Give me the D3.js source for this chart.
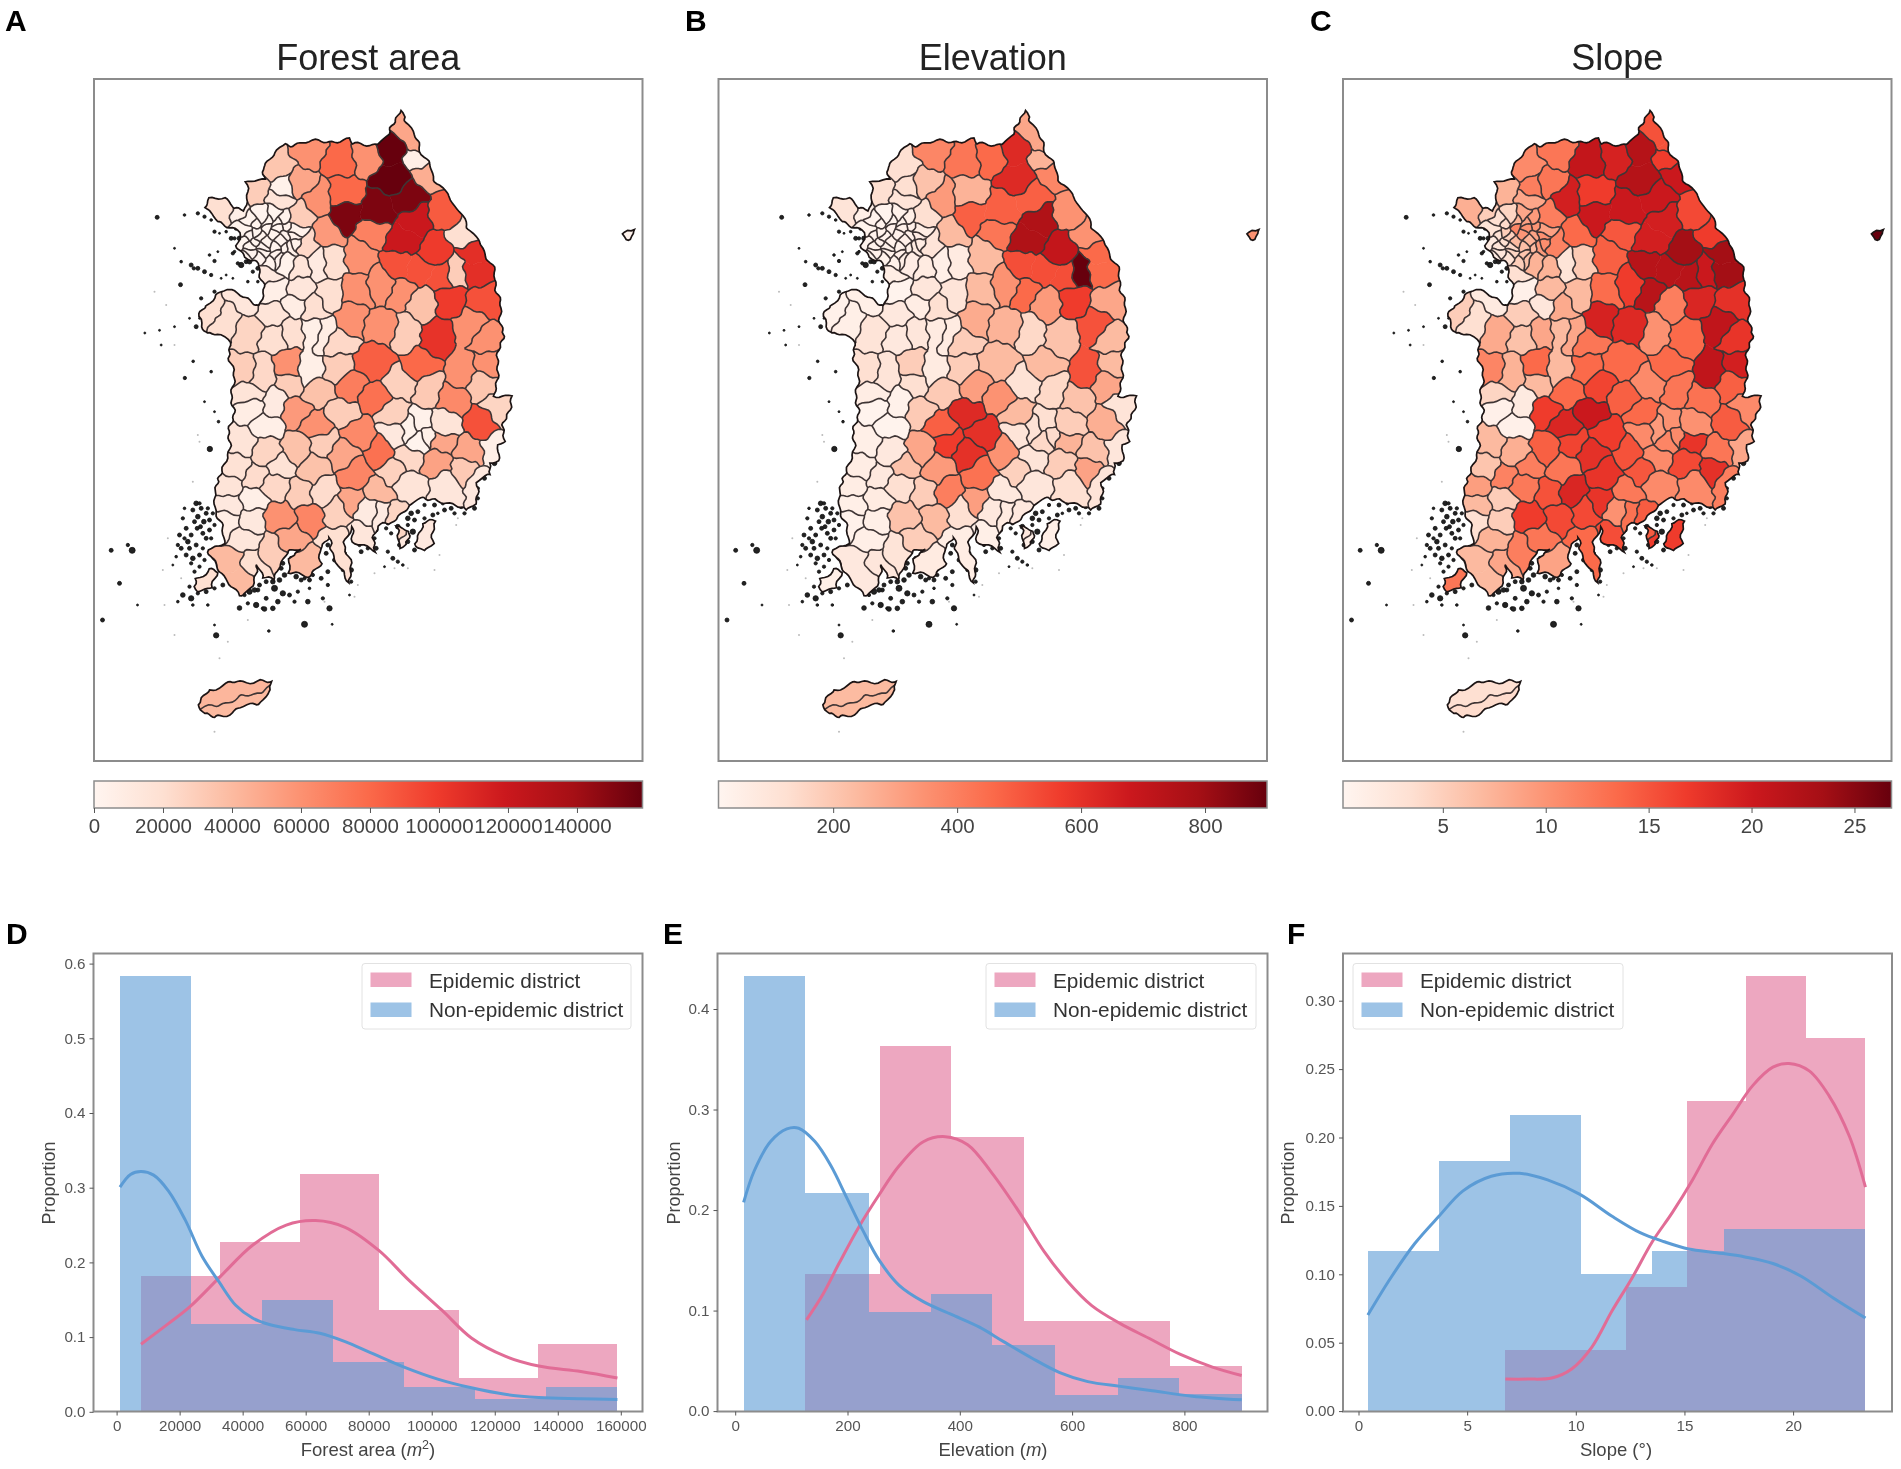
<!DOCTYPE html>
<html>
<head>
<meta charset="utf-8">
<script src="https://cdn.jsdelivr.net/npm/d3@7"></script>
<style>
  html, body { margin: 0; background: #fff; }
  text { font-family: "Liberation Sans", Arial, sans-serif; }
  svg { filter: blur(0.55px); }
</style>
</head>
<body>
<div id="chart"></div>
<script>
// District seed points (map units = 3 x reference pixels)
var districtSeeds = [
  [640,75],[680,160],[590,135],[590,225],[520,160],[435,165],[345,140],[250,185],[318,235],[450,262],
  [365,280],[455,335],[550,310],[640,285],[700,195],[750,320],[660,335],[625,415],[530,385],[720,440],
  [810,385],[835,445],[835,500],[790,500],[610,470],[680,495],[490,450],[400,385],[310,335],[190,265],
  [250,280],[265,245],[95,315],[135,320],[330,420],[415,465],[365,475],[320,490],[215,505],[240,560],
  [320,550],[400,575],[150,590],[240,630],[295,600],[360,605],[490,555],[560,540],[620,565],[680,600],
  [765,585],[870,590],[470,640],[560,665],[640,680],[720,700],[830,660],[880,705],[40,610],[100,640],
  [165,680],[235,690],[300,680],[350,680],[390,690],[430,710],[140,800],[205,810],[280,780],[345,800],
  [430,790],[535,770],[680,780],[810,800],[880,775],[165,865],[240,890],[285,835],[375,860],[465,845],
  [545,880],[620,840],[700,850],[775,885],[860,835],[175,910],[215,965],[305,920],[365,960],[440,920],
  [490,985],[590,920],[560,1040],[600,990],[680,965],[650,980],[700,990],[670,1000],[745,955],[860,960],
  [915,915],[140,1015],[220,1035],[305,1035],[385,1015],[445,1050],[640,1060],[735,1010],[830,1040],[730,1070],
  [895,1035],[130,1085],[180,1120],[240,1140],[260,1085],[360,1095],[480,1105],[595,1100],[385,1155],[320,1165],
  [645,1140],[755,1140],[805,1095],[860,1140],[100,1145],[555,1160],[110,1195],[175,1185],[255,1235],[350,1240],
  [425,1220],[470,1190],[170,1240],[95,1260],[520,1220],[560,1230],[600,1230],[150,1305],[105,1370],[125,1420],
  [180,1370],[225,1340],[290,1300],[330,1370],[420,1310],[500,1295],[690,1280],[35,1420],[110,1750],[130,1815],
  [1299,387],
  [165,345],[200,335],[235,335],[270,345],[295,370],[150,380],[185,375],[220,370],[255,375],[290,395],
  [150,415],[185,410],[220,405],[255,410],[285,430],[170,445],[205,440],[240,445],[275,465],[150,465],
  [690,115],[740,510],
  [180,355],[215,352],[250,355],[282,362],[165,395],[202,392],[238,390],[272,392],[170,428],[203,425],
  [238,425],[270,432],[190,460],[225,462],[258,455],[300,415]
];

var forestValues = [
  50000,6000,159000,159000,60000,80000,60000,34000,50000,80000,
  60000,152000,152000,152000,46000,86000,120000,120000,68000,100000,
  20000,106000,106000,30000,90000,90000,60000,56000,30000,30000,
  16000,4000,20000,6000,24000,20000,10000,16000,12000,6000,
  14000,20000,14000,16000,8000,20000,60000,60000,60000,36000,
  100000,90000,60000,60000,30000,104000,60000,60000,20000,20000,
  26000,20000,20000,6000,8000,24000,30000,24000,60000,6000,
  30000,84000,80000,60000,60000,16000,10000,30000,36000,70000,
  76000,28000,32000,64000,34000,8000,6000,56000,60000,30000,
  64000,28000,76000,12000,4000,3000,5000,2000,16000,90000,
  26000,16000,26000,36000,30000,50000,24000,50000,50000,52000,
  6000,18000,22000,24000,18000,36000,66000,28000,22000,30000,
  16000,14000,32000,12000,16000,40000,12000,6000,60000,66000,
  28000,50000,12000,8000,10000,10000,26000,14000,40000,40000,
  20000,30000,50000,40000,20000,14000,12000,20000,42000,40000,
  2000,
  2000,1500,1000,2500,3000,2000,1200,800,900,3500,
  1000,1400,2000,1800,4000,1500,1900,2400,3000,1000,
  50000,90000,
  2200,1300,1100,2600,1600,1700,1900,2100,1250,1450,
  1750,2300,1650,1850,2700,3200
];

var elevationValues = [
  292,258,623,623,457,424,380,126,214,258,
  325,480,480,480,380,347,756,756,424,701,
  347,457,457,900,524,524,236,236,126,126,
  103,126,103,48,103,70,48,70,59,26,
  92,103,48,81,59,126,236,347,457,325,
  568,292,280,258,148,214,513,236,37,48,
  103,81,92,70,70,181,126,103,181,70,
  181,236,236,513,236,59,37,126,192,314,
  347,115,148,214,292,26,26,192,480,623,
  601,236,347,103,126,115,137,148,181,269,
  103,48,81,292,568,601,103,258,214,181,
  92,59,81,126,214,325,435,170,402,181,
  92,126,303,103,59,81,48,70,214,236,
  126,314,48,37,81,70,81,48,81,81,
  92,103,181,70,59,48,48,48,236,240,
  347,
  30,26,37,48,59,28,32,35,40,60,
  26,30,36,45,70,34,38,44,60,28,
  292,524,
  31,27,33,46,29,31,34,39,27,33,
  37,43,32,36,52,62
];

var slopeValues = [
  15.2,16.8,22.1,22.1,19.2,20.8,12.5,10.8,12.5,16.8,
  19.5,20.2,20.2,20.2,20.2,15.8,19.5,19.5,14.8,23.5,
  16.8,23.5,23.5,20.2,21.8,21.8,14.2,13.5,11.8,7.5,
  8.5,11.8,7.8,5.2,11.5,5.5,2.9,7.5,3.5,0.9,
  6.9,6.9,1.9,5.2,2.5,8.2,13.2,16.8,21.8,11.8,
  18.8,17.8,19.2,18.5,10.2,13.5,21.1,17.5,5.2,3.5,
  8.2,6.2,8.5,6.9,8.5,12.5,11.2,7.5,13.5,6.9,
  13.5,13.5,13.5,21.1,19.5,4.5,1.9,6.9,13.5,16.2,
  14.2,10.8,12.5,12.8,14.2,0.9,0.9,16.8,18.8,20.2,
  16.8,13.5,15.2,10.8,10.2,9.5,10.8,11.2,10.2,14.5,
  10.8,6.9,7.8,14.2,16.2,17.8,10.8,17.5,12.5,15.8,
  8.5,5.9,11.5,12.2,11.8,12.5,17.5,14.8,18.8,15.2,
  10.8,10.8,17.8,11.8,9.2,12.2,6.9,5.2,16.8,15.8,
  15.8,17.5,5.2,3.5,10.2,12.8,14.5,7.5,6.9,6.9,
  8.5,11.8,12.5,8.8,13.5,15.5,16.8,12.5,3.5,3.8,
  26.8,
  3.5,4.5,8.5,9.5,9,2.9,5.2,11.2,10.2,10.2,
  1.9,3.5,6.9,7.5,9.5,2.5,4.5,5.9,7.5,1.5,
  15.2,21.8,
  3.9,7.5,8.9,9.9,3.1,4.9,9.8,8.8,2.7,4.1,
  6.5,6.9,3.2,5.1,6.4,10.5
];

// Coastlines
var mainlandOutline = [
  [612,15],[630,30],[660,90],[690,150],[730,235],[770,280],[810,350],[850,410],[885,470],[905,530],
  [915,600],[925,670],[915,750],[905,810],[905,870],[950,870],[930,960],[925,1010],[905,1020],[915,1060],
  [890,1075],[890,1110],[850,1130],[840,1190],[815,1220],[770,1200],[730,1180],[690,1180],[650,1200],[625,1225],
  [590,1260],[555,1260],[540,1290],[535,1340],[480,1315],[470,1270],
  [450,1305],[465,1370],[470,1430],[430,1390],[400,1295],[375,1340],[385,1375],[340,1415],[285,1405],[280,1370],
  [315,1325],[280,1345],[245,1385],[235,1420],[200,1420],[190,1385],[170,1445],[130,1472],[100,1430],[50,1370],
  [45,1335],[95,1310],[80,1270],[55,1170],[85,1100],[105,1020],[105,1000],[115,920],[115,860],[115,800],
  [105,750],[100,700],[75,690],[40,690],[20,665],[10,640],[40,600],[70,570],[100,555],[200,600],
  [205,550],[195,480],[150,460],[130,420],[135,385],[100,365],[70,345],[30,300],[50,280],[90,285],
  [120,310],[155,310],[155,235],[205,225],[210,185],[240,150],[270,120],[370,110],[460,105],[480,120],
  [550,115],[585,95],[600,60]
];
var jejuOutline = [[12,1800],[50,1755],[110,1735],[190,1725],[225,1735],[234,1760],[200,1790],[130,1815],[60,1840],[25,1830]];
var jindoOutline = [[0,1420],[40,1395],[70,1405],[55,1445],[20,1455],[0,1445]];
var ulleungOutline = [[1282,385],[1295,374],[1314,378],[1318,392],[1304,400],[1288,398]];
var geojeOutline = [[680,1255],[722,1250],[716,1315],[690,1335],[665,1310]];
var tongyeongOutline = [[608,1268],[640,1272],[640,1322],[618,1332],[606,1300]];

// Small islands: x, y, radius
var islandSpecks = [
  [-112,337,6],[-30,330,4],[10,325,5],[30,335,5],[50,345,4],[60,380,5],[95,380,4],[110,400,6],[135,400,7],[75,385,3],
  [138,365,6],[120,440,4],[45,450,4],[60,468,5],[-10,480,6],[10,490,6],[30,500,6],[50,510,5],[-40,470,4],[-60,430,3],
  [95,510,3],[115,520,3],[80,520,3],[140,480,8],[155,470,6],[130,475,5],[20,580,5],[70,580,7],[60,560,5],[75,600,6],
  [15,640,3],[5,665,6],[-15,640,3],[-60,665,3],[-100,720,3],[-42,539,6],[-2,490,5],[-29,819,5],[46,1032,8],[30,890,3],
  [34,654,4],[-149,684,3],[-105,676,3],[-4,769,4],[72,950,4],[50,800,4],[60,920,3],
  [5,1195,7],[20,1210,6],[35,1225,6],[10,1235,7],[28,1250,7],[45,1245,6],[8,1270,6],[25,1285,6],[45,1275,6],
  [-10,1290,6],[-35,1240,5],[-25,1270,6],[-45,1290,6],[-20,1310,7],[5,1320,6],[25,1330,5],[-40,1330,6],[-25,1350,6],[-5,1360,7],
  [15,1385,5],[-55,1355,4],[-65,1380,3],[0,1400,5],[-15,1445,5],[-35,1470,7],[-10,1480,8],[10,1465,5],[35,1460,6],[60,1450,5],
  [-50,1490,4],[85,1440,6],[165,1460,8],[190,1455,6],[215,1480,6],[240,1450,9],[265,1465,8],[250,1490,7],[285,1470,6],[310,1460,5],
  [40,1500,4],[-5,1500,4],[185,1500,8],[205,1510,5],[235,1510,7],[160,1495,5],[320,1425,6],[345,1450,4],[340,1490,7],[385,1480,5],
  [400,1440,5],[300,1490,5],[405,1510,8],[465,1470,3],[-250,1336,6],[-187,1336,9],[-200,1320,5],[-225,1435,6],[-276,1545,6],[-171,1500,3],
  [65,1591,8],[210,1512,7],[330,1558,9],[223,1578,4],[413,1558,3],[135,1509,7],[60,1560,3],
  [630,1215,6],[650,1225,7],[670,1220,6],[690,1200,5],[720,1200,6],[745,1195,5],[770,1210,6],[800,1205,6],[825,1200,5],[790,1180,5],
  [815,1170,6],[640,1260,5],[620,1290,7],[640,1310,6],[655,1280,8],[675,1310,7],[660,1335,6],[690,1330,5],[615,1320,6],[730,1225,4],
  [590,1285,5],[575,1270,5],[580,1340,5],[595,1360,6],[610,1370,5],[570,1385,3],[625,1380,4],[540,1300,5],[545,1330,6],[500,1340,6],
  [470,1395,7],[455,1370,6],[460,1415,5],[470,1430,5],[420,1365,6],[395,1345,6],[375,1320,5],[370,1290,4],[410,1290,5],[440,1280,7],
  [480,1260,5],[510,1270,5],[400,1400,6],[380,1420,6],[355,1410,5],[330,1420,5],[290,1400,6],[260,1390,6],
  [-5,1215,6],[15,1195,5],[0,1250,6],[18,1265,6],[35,1300,6],[-15,1330,6],[15,1350,6],[30,1365,5],[-30,1300,5],[-50,1320,5],
  [-10,1375,5],[40,1210,5],[55,1225,5],[50,1300,5],[60,1260,5],[-30,1210,4],
  [150,440,6],[165,470,7],[190,490,6],[120,400,5],[125,370,6],[110,350,5],[90,340,4],[130,340,5],[115,445,5],[70,440,3],
  [175,500,5],[190,530,4],[160,530,4],
  [600,1240,6],[610,1265,7],[580,1255,5],[640,1240,7],[660,1245,6],[690,1240,5],[715,1230,6],[750,1215,6],[780,1225,5],[810,1225,5],
  [840,1210,6],[850,1180,5],[850,1150,5],[870,1120,6],[900,1075,7],[880,1085,6],[545,1275,6],[520,1330,5],[495,1320,5],[445,1300,6],
  [430,1330,6],[450,1345,6],[445,1395,5],[400,1320,6],[365,1365,6],[345,1425,6],[305,1415,7],[270,1410,7],[255,1425,7],[235,1430,7],
  [215,1430,6],[195,1440,6],[180,1455,7],[150,1470,5],[290,1360,6],[265,1375,6],[310,1340,5]
];
var faintSpecks = [
  [600,1390],[640,1390],[720,1395],[785,1260],[790,1240],[735,1350],[540,1405],[490,1440],[480,1475],[390,1490],
  [-90,1500],[-60,1590],[-95,1395],[-80,1300],[-40,1420],[160,1545],[100,1610],[75,1660],[60,1880],[-120,560],
  [-85,600],[-60,720],[15,1010],[-5,1130],[10,990]
];

var mapColorStops = ["#fff5f0", "#fee0d2", "#fcbba1", "#fc9272", "#fb6a4a", "#ef3b2c", "#cb181d", "#a50f15", "#67000d"];

var forestTicks = [0, 20000, 40000, 60000, 80000, 100000, 120000, 140000];
var elevationTicks = [200, 400, 600, 800];
var slopeTicks = [5, 10, 15, 20, 25];

// Histogram D
var forestEpidemicEdges = [7746, 32943, 58140, 83337, 108534, 133731, 158930];
var forestEpidemicBars = [0.182, 0.227, 0.318, 0.136, 0.045, 0.091];
var forestOtherEdges = [1068, 23620, 46172, 68724, 91276, 113828, 136380, 158930];
var forestOtherBars = [0.583, 0.117, 0.15, 0.067, 0.033, 0.017, 0.033];
var forestEpidemicCurve = [[7746,0.0905],[16428,0.118],[23106,0.14],[33123,0.182],[43140,0.223],[53825,0.25],[63174,0.256],[72523,0.247],[83208,0.216],[92557,0.177],[103242,0.136],[112591,0.0988],[123276,0.0745],[133960,0.0613],[147316,0.054],[158930,0.0453]];
var forestOtherCurve = [[1068,0.3007],[4407,0.3178],[7746,0.3216],[11753,0.3168],[16428,0.2958],[21770,0.2569],[27113,0.2083],[32455,0.1742],[37797,0.1426],[43140,0.1255],[48482,0.1168],[56496,0.11],[64510,0.1051],[72523,0.0939],[80537,0.0793],[91222,0.0599],[101906,0.0438],[112591,0.0321],[123276,0.0234],[133960,0.019],[147316,0.0175],[158930,0.0165]];

// Histogram E
var elevationEpidemicEdges = [125, 258, 385, 514, 644, 773.5, 902];
var elevationEpidemicBars = [0.136, 0.363, 0.273, 0.09, 0.09, 0.045];
var elevationOtherEdges = [15, 125, 237.6, 348, 458, 570, 682, 791, 902];
var elevationOtherBars = [0.433, 0.217, 0.099, 0.116, 0.066, 0.016, 0.033, 0.017];
var elevationEpidemicCurve = [[127,0.0908],[156,0.116],[185,0.147],[220,0.183],[256,0.215],[292,0.244],[335,0.268],[374,0.273],[414,0.265],[457,0.237],[507,0.197],[550,0.159],[592,0.129],[635,0.105],[686,0.087],[736,0.0727],[793,0.0564],[850,0.0438],[902,0.0354]];
var elevationOtherCurve = [[15,0.2076],[34,0.2391],[63,0.2681],[92,0.2807],[113,0.2814],[142,0.2681],[170,0.2445],[199,0.2119],[228,0.179],[256,0.1504],[292,0.1251],[335,0.1089],[385,0.0962],[435,0.0835],[478,0.0691],[528,0.0528],[578,0.0383],[628,0.0293],[686,0.0246],[743,0.0203],[814,0.0148],[902,0.0112]];

// Histogram F
var slopeEpidemicEdges = [6.76, 9.57, 12.33, 15.1, 17.83, 20.6, 23.33];
var slopeEpidemicBars = [0.045, 0.045, 0.091, 0.227, 0.318, 0.273];
var slopeOtherEdges = [0.43, 3.7, 6.98, 10.24, 13.52, 16.8, 20.06, 23.33];
var slopeOtherBars = [0.1167, 0.183, 0.2166, 0.1, 0.1167, 0.133, 0.133];
var slopeEpidemicCurve = [[6.76,0.0234],[7.78,0.0234],[8.89,0.0242],[9.81,0.0308],[10.74,0.0468],[11.67,0.0733],[12.59,0.0973],[13.52,0.1238],[14.44,0.1451],[15.37,0.169],[16.3,0.1956],[17.22,0.2169],[18.15,0.2381],[19.07,0.2514],[19.81,0.2541],[20.74,0.2487],[21.67,0.2301],[22.59,0.2009],[23.33,0.1637]];
var slopeOtherCurve = [[0.43,0.0702],[1.48,0.0973],[2.59,0.1225],[3.7,0.1424],[4.81,0.161],[6.11,0.1717],[7.41,0.1738],[8.7,0.169],[10.19,0.1584],[11.67,0.1424],[12.96,0.1304],[14.07,0.1238],[15.19,0.1185],[16.48,0.1158],[17.78,0.1127],[19.07,0.1079],[20.37,0.0986],[21.85,0.0827],[23.33,0.068]];

var frameColor = "#8c8c8c";
var tickColor = "#555";
var pink = "#E16C96";
var blue = "#5B9BD5";

var svg = d3
  .select("#chart")
  .append("svg")
  .attr("width", 1901)
  .attr("height", 1469);

svg.append("rect").attr("width", 1901).attr("height", 1469).attr("fill", "#fff");
svg.append("defs");

// ---- map geometry shared by the three maps ----

// position based wobble so neighbouring cells keep sharing their border
function wobble(p) {
  var x = p[0],
    y = p[1];
  return [
    x + 5 * Math.sin(y / 17 + x / 31) + 3.5 * Math.sin(y / 6.3 - x / 23),
    y + 5 * Math.cos(x / 19 - y / 37) + 3.5 * Math.sin(x / 7.1 + y / 29),
  ];
}

function roughEdge(a, b) {
  var n = Math.max(1, Math.round(Math.hypot(b[0] - a[0], b[1] - a[1]) / 8));
  var pts = [];
  for (var i = 0; i <= n; i++) {
    pts.push(wobble([a[0] + ((b[0] - a[0]) * i) / n, a[1] + ((b[1] - a[1]) * i) / n]));
  }
  return pts;
}

function roughRing(ring) {
  var pts = [];
  ring.forEach(function (p, i) {
    var next = ring[(i + 1) % ring.length];
    pts = pts.concat(roughEdge(p, next).slice(0, -1));
  });
  return pts;
}

var voronoi = d3.Delaunay.from(districtSeeds).voronoi([-500, -200, 1600, 2000]);
var cellRings = districtSeeds.map(function (d, i) {
  var poly = voronoi.cellPolygon(i);
  return poly ? poly.slice(0, -1) : [];
});

// collect the borders, seeds of one district do not get a line between them
var edgeOwners = new Map();
cellRings.forEach(function (ring, i) {
  ring.forEach(function (p, j) {
    var q = ring[(j + 1) % ring.length];
    var ka = p[0].toFixed(2) + "," + p[1].toFixed(2);
    var kb = q[0].toFixed(2) + "," + q[1].toFixed(2);
    var key = ka < kb ? ka + "|" + kb : kb + "|" + ka;
    if (!edgeOwners.has(key)) edgeOwners.set(key, { a: ka < kb ? p : q, b: ka < kb ? q : p, cells: [] });
    edgeOwners.get(key).cells.push(i);
  });
});

var borderLines = [];
edgeOwners.forEach(function (edge) {
  if (edge.cells.length < 2) return;
  var i = edge.cells[0],
    k = edge.cells[1];
  if (forestValues[i] === forestValues[k] && elevationValues[i] === elevationValues[k] && slopeValues[i] === slopeValues[k]) return;
  borderLines.push(roughEdge(edge.a, edge.b));
});

var landRings = [mainlandOutline, jejuOutline, jindoOutline, ulleungOutline, geojeOutline, tongyeongOutline].map(roughRing);
var cellShapes = cellRings.map(roughRing);

function drawMap(index, opts) {
  var group = svg.append("g");
  var frameWidth = 548.5;
  var frameTop = 79,
    frameBottom = 761;

  group
    .append("text")
    .attr("x", opts.left + frameWidth / 2)
    .attr("y", 70)
    .attr("text-anchor", "middle")
    .attr("font-size", 36)
    .attr("fill", "#222")
    .text(opts.title);

  group
    .append("rect")
    .attr("x", opts.left)
    .attr("y", frameTop)
    .attr("width", frameWidth)
    .attr("height", frameBottom - frameTop)
    .attr("fill", "#fff")
    .attr("stroke", frameColor)
    .attr("stroke-width", 2);

  var sx = d3.scaleLinear().domain([0, 990]).range([opts.left + 100.5, opts.left + 430.5]);
  var sy = d3.scaleLinear().domain([0, 1515]).range([105, 610]);
  var line = d3.line().x(function (d) { return sx(d[0]); }).y(function (d) { return sy(d[1]); });
  var ringPath = function (r) { return line(r) + "Z"; };

  var color = d3.scaleSequential(d3.piecewise(d3.interpolateRgb, mapColorStops)).domain(opts.domain);

  var clipId = "land-" + index;
  svg
    .select("defs")
    .append("clipPath")
    .attr("id", clipId)
    .append("path")
    .attr("d", landRings.map(ringPath).join(""));

  // tiny islands under the land
  group
    .selectAll("circle.faint")
    .data(faintSpecks)
    .enter()
    .append("circle")
    .attr("class", "faint")
    .attr("cx", function (d) { return sx(d[0]); })
    .attr("cy", function (d) { return sy(d[1]); })
    .attr("r", 1)
    .attr("fill", "#bbb");

  group
    .selectAll("circle.speck")
    .data(islandSpecks)
    .enter()
    .append("circle")
    .attr("class", "speck")
    .attr("cx", function (d) { return sx(d[0]); })
    .attr("cy", function (d) { return sy(d[1]); })
    .attr("r", function (d) { return d[2] / 3; })
    .attr("fill", "#222")
    .attr("stroke", "#111")
    .attr("stroke-width", 0.8);

  var land = group.append("g").attr("clip-path", "url(#" + clipId + ")");

  land
    .selectAll("path.cell")
    .data(cellShapes)
    .enter()
    .append("path")
    .attr("class", "cell")
    .attr("d", ringPath)
    .attr("fill", function (d, i) { return color(opts.values[i]); })
    .attr("stroke", function (d, i) { return color(opts.values[i]); })
    .attr("stroke-width", 0.6);

  land
    .append("path")
    .attr("d", borderLines.map(function (l) { return line(l); }).join(""))
    .attr("fill", "none")
    .attr("stroke", "#3f3535")
    .attr("stroke-width", 1.6);

  group
    .append("path")
    .attr("d", landRings.map(ringPath).join(""))
    .attr("fill", "none")
    .attr("stroke", "#1c1414")
    .attr("stroke-width", 1.7);

  // colour bar
  var barTop = 781,
    barHeight = 27;
  var gradientId = "bar-" + index;
  svg
    .select("defs")
    .append("linearGradient")
    .attr("id", gradientId)
    .selectAll("stop")
    .data(mapColorStops)
    .enter()
    .append("stop")
    .attr("offset", function (d, i) { return i / (mapColorStops.length - 1); })
    .attr("stop-color", function (d) { return d; });

  group
    .append("rect")
    .attr("x", opts.left)
    .attr("y", barTop)
    .attr("width", frameWidth)
    .attr("height", barHeight)
    .attr("fill", "url(#" + gradientId + ")")
    .attr("stroke", frameColor)
    .attr("stroke-width", 1.5);

  var barScale = d3.scaleLinear().domain(opts.domain).range([opts.left, opts.left + frameWidth]);
  var barAxis = group
    .append("g")
    .attr("transform", "translate(0," + (barTop + barHeight) + ")")
    .call(d3.axisBottom(barScale).tickValues(opts.ticks).tickFormat(d3.format("d")).tickSize(5).tickPadding(5));
  barAxis.select(".domain").remove();
  barAxis.selectAll("line").attr("stroke", tickColor);
  barAxis
    .selectAll("text")
    .attr("font-size", 20.5)
    .attr("fill", "#444")
    .style("font-family", '"Liberation Sans", Arial, sans-serif');
}

function drawHistogram(opts) {
  var group = svg.append("g");
  var top = 953.5,
    bottom = 1411.5;

  var x = d3.scaleLinear().domain(opts.xDomain).range(opts.xRange);
  var y = d3.scaleLinear().domain(opts.yDomain).range(opts.yRange);

  function drawBars(edges, bars, color) {
    group
      .append("g")
      .selectAll("rect")
      .data(bars)
      .enter()
      .append("rect")
      .attr("x", function (d, i) { return x(edges[i]); })
      .attr("y", function (d) { return y(d); })
      .attr("width", function (d, i) { return x(edges[i + 1]) - x(edges[i]); })
      .attr("height", function (d) { return y(0) - y(d); })
      .attr("fill", color)
      .attr("shape-rendering", "crispEdges")
      .attr("fill-opacity", 0.6);
  }
  drawBars(opts.epidemicEdges, opts.epidemicBars, pink);
  drawBars(opts.otherEdges, opts.otherBars, blue);

  var curve = d3
    .line()
    .x(function (d) { return x(d[0]); })
    .y(function (d) { return y(d[1]); })
    .curve(d3.curveCatmullRom.alpha(0.5));

  [[opts.epidemicCurve, pink], [opts.otherCurve, blue]].forEach(function (c) {
    group
      .append("path")
      .attr("d", curve(c[0]))
      .attr("fill", "none")
      .attr("stroke", c[1])
      .attr("stroke-width", 3);
  });

  group
    .append("rect")
    .attr("x", opts.left)
    .attr("y", top)
    .attr("width", opts.right - opts.left)
    .attr("height", bottom - top)
    .attr("fill", "none")
    .attr("stroke", frameColor)
    .attr("stroke-width", 2);

  var xAxis = group
    .append("g")
    .attr("transform", "translate(0," + bottom + ")")
    .call(d3.axisBottom(x).tickValues(opts.xTicks).tickFormat(d3.format("d")).tickSize(4).tickPadding(5));
  var yAxis = group
    .append("g")
    .attr("transform", "translate(" + opts.left + ",0)")
    .call(d3.axisLeft(y).tickValues(opts.yTicks).tickFormat(d3.format(opts.yFormat)).tickSize(4).tickPadding(4));
  [xAxis, yAxis].forEach(function (axis) {
    axis.select(".domain").remove();
    axis.selectAll("line").attr("stroke", tickColor);
    axis
      .selectAll("text")
      .attr("font-size", 15.2)
      .attr("fill", tickColor)
      .style("font-family", '"Liberation Sans", Arial, sans-serif');
  });

  group
    .append("text")
    .attr("transform", "translate(" + opts.yLabelX + ",1183) rotate(-90)")
    .attr("text-anchor", "middle")
    .attr("font-size", 18)
    .attr("fill", "#444")
    .text("Proportion");

  var xLabel = group
    .append("text")
    .attr("x", opts.xLabelCenter)
    .attr("y", 1456)
    .attr("text-anchor", "middle")
    .attr("font-size", 18.5)
    .attr("fill", "#444");
  opts.xLabel.forEach(function (part) {
    var span = xLabel.append("tspan").text(part.text);
    if (part.italic) span.attr("font-style", "italic");
    if (part.up) span.attr("dy", -7).attr("font-size", 12.5);
    if (part.down) span.attr("dy", 7);
  });

  // legend
  var legend = group.append("g");
  legend
    .append("rect")
    .attr("x", opts.legendLeft)
    .attr("y", 963.5)
    .attr("width", opts.legendWidth)
    .attr("height", 65.5)
    .attr("rx", 3)
    .attr("fill", "#fff")
    .attr("fill-opacity", 0.8)
    .attr("stroke", "#e2e2e2")
    .attr("stroke-width", 1);

  [["Epidemic district", pink, 972.5, 988], ["Non-epidemic district", blue, 1002.5, 1017]].forEach(function (row) {
    legend
      .append("rect")
      .attr("x", opts.legendLeft + 8.5)
      .attr("y", row[2])
      .attr("width", 41)
      .attr("height", 14.5)
      .attr("fill", row[1])
      .attr("fill-opacity", 0.6);
    legend
      .append("text")
      .attr("x", opts.legendLeft + 67)
      .attr("y", row[3])
      .attr("font-size", 20.8)
      .attr("fill", "#333")
      .text(row[0]);
  });
}

// ---- panels ----

drawMap(0, { left: 94, title: "Forest area", values: forestValues, domain: [0, 159000], ticks: forestTicks });
drawMap(1, { left: 718.5, title: "Elevation", values: elevationValues, domain: [15, 900], ticks: elevationTicks });
drawMap(2, { left: 1343, title: "Slope", values: slopeValues, domain: [0.15, 26.8], ticks: slopeTicks });

drawHistogram({
  left: 93.5, right: 642.5,
  xDomain: [0, 160000], xRange: [116.6, 620.8],
  yDomain: [0, 0.6], yRange: [1411.8, 963.6],
  xTicks: forestTicks.concat([160000]), yTicks: [0, 0.1, 0.2, 0.3, 0.4, 0.5, 0.6], yFormat: ".1f",
  yLabelX: 55, xLabelCenter: 368,
  xLabel: [{ text: "Forest area (" }, { text: "m", italic: true }, { text: "2", up: true }, { text: ")", down: true }],
  epidemicEdges: forestEpidemicEdges, epidemicBars: forestEpidemicBars,
  otherEdges: forestOtherEdges, otherBars: forestOtherBars,
  epidemicCurve: forestEpidemicCurve, otherCurve: forestOtherCurve,
  legendLeft: 362, legendWidth: 269,
});

drawHistogram({
  left: 717.5, right: 1267.5,
  xDomain: [0, 800], xRange: [735.2, 1184.4],
  yDomain: [0, 0.4], yRange: [1411.1, 1009],
  xTicks: [0].concat(elevationTicks), yTicks: [0, 0.1, 0.2, 0.3, 0.4], yFormat: ".1f",
  yLabelX: 680, xLabelCenter: 993,
  xLabel: [{ text: "Elevation (" }, { text: "m", italic: true }, { text: ")" }],
  epidemicEdges: elevationEpidemicEdges, epidemicBars: elevationEpidemicBars,
  otherEdges: elevationOtherEdges, otherBars: elevationOtherBars,
  epidemicCurve: elevationEpidemicCurve, otherCurve: elevationOtherCurve,
  legendLeft: 986, legendWidth: 270,
});

drawHistogram({
  left: 1343, right: 1892,
  xDomain: [0, 20], xRange: [1358.5, 1793.1],
  yDomain: [0, 0.3], yRange: [1411.1, 1000.7],
  xTicks: [0, 5, 10, 15, 20], yTicks: [0, 0.05, 0.1, 0.15, 0.2, 0.25, 0.3], yFormat: ".2f",
  yLabelX: 1294, xLabelCenter: 1616,
  xLabel: [{ text: "Slope (°)" }],
  epidemicEdges: slopeEpidemicEdges, epidemicBars: slopeEpidemicBars,
  otherEdges: slopeOtherEdges, otherBars: slopeOtherBars,
  epidemicCurve: slopeEpidemicCurve, otherCurve: slopeOtherCurve,
  legendLeft: 1353, legendWidth: 270,
});

// panel letters
var panelLetters = ["A", "B", "C", "D", "E", "F"];
var letterX = [5, 685, 1310, 6, 663, 1287];
var letterY = [31, 31, 31, 944, 944, 944];
svg
  .append("g")
  .selectAll("text")
  .data(panelLetters)
  .enter()
  .append("text")
  .attr("x", function (d, i) { return letterX[i]; })
  .attr("y", function (d, i) { return letterY[i]; })
  .attr("font-size", 30)
  .attr("font-weight", "bold")
  .attr("fill", "#000")
  .text(function (d) { return d; });
</script>
</body>
</html>
